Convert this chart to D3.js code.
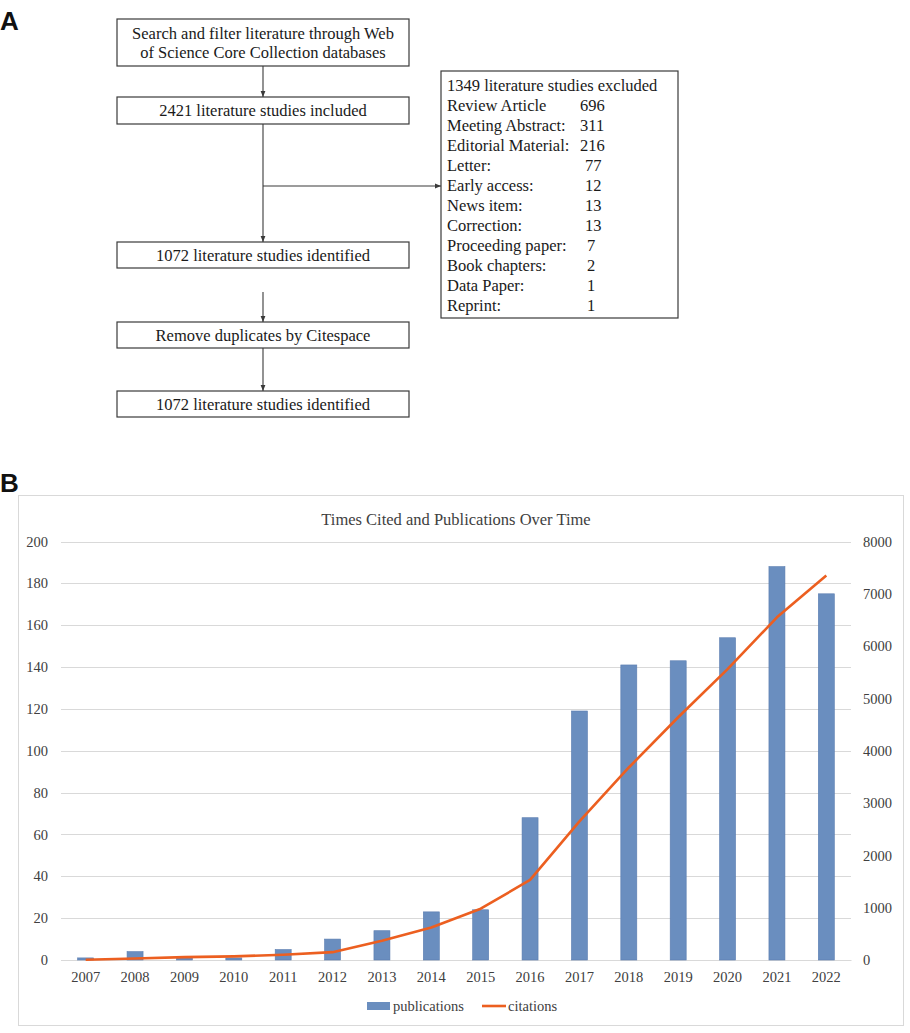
<!DOCTYPE html>
<html><head><meta charset="utf-8">
<script src="https://cdn.jsdelivr.net/npm/d3@7"></script>
<style>body{margin:0;background:#fff;}svg{display:block;}</style>
</head><body>
<svg id="c" width="910" height="1033"></svg>
<script>
// ---- Data ----
const flowSteps = [
  ["Search and filter literature through Web", "of Science Core Collection databases"],
  ["2421 literature studies included"],
  ["1072 literature studies identified"],
  ["Remove duplicates by Citespace"],
  ["1072 literature studies identified"]
];
const excludedTitle = "1349 literature studies excluded";
const excludedLabels = ["Review Article", "Meeting Abstract:", "Editorial Material:", "Letter:", "Early access:", "News item:", "Correction:", "Proceeding paper:", "Book chapters:", "Data Paper:", "Reprint:"];
const excludedCounts = [696, 311, 216, 77, 12, 13, 13, 7, 2, 1, 1];

const years = ["2007","2008","2009","2010","2011","2012","2013","2014","2015","2016","2017","2018","2019","2020","2021","2022"];
const publications = [1, 4, 1, 1, 5, 10, 14, 23, 24, 68, 119, 141, 143, 154, 188, 175];
const citations = [5, 30, 55, 70, 100, 150, 370, 620, 980, 1530, 2650, 3680, 4640, 5560, 6550, 7350];
const leftTicks = [0, 20, 40, 60, 80, 100, 120, 140, 160, 180, 200];
const rightTicks = [0, 1000, 2000, 3000, 4000, 5000, 6000, 7000, 8000];
const chartTitle = "Times Cited and Publications Over Time";
const seriesNames = ["publications", "citations"];

// ---- Drawing ----
const svg = d3.select("#c");
const serif = "'Liberation Serif', 'Times New Roman', serif";
const sans = "'Liberation Sans', Arial, sans-serif";
const stroke = "#3a3a3a";
const flowFont = 16.5;

svg.append("defs").append("marker")
  .attr("id", "ah").attr("viewBox", "0 0 10 10").attr("refX", 10).attr("refY", 5)
  .attr("markerWidth", 6).attr("markerHeight", 6).attr("orient", "auto-start-reverse")
  .attr("markerUnits", "userSpaceOnUse")
  .append("path").attr("d", "M0,1 L10,5 L0,9 z").attr("fill", stroke);

// Panel labels
svg.append("text").attr("x", 0).attr("y", 30).text("A")
  .attr("font-family", sans).attr("font-weight", "bold").attr("font-size", 26).attr("fill", "#111");
svg.append("text").attr("x", 0).attr("y", 492).text("B")
  .attr("font-family", sans).attr("font-weight", "bold").attr("font-size", 26).attr("fill", "#111");

// Flowchart
const boxX = 117, boxW = 292, cx = boxX + boxW / 2;
const boxY = [19, 97, 242, 322, 391];
const boxH = [47, 27, 26, 26, 26];
flowSteps.forEach((lines, i) => {
  svg.append("rect").attr("x", boxX).attr("y", boxY[i]).attr("width", boxW).attr("height", boxH[i])
    .attr("fill", "#fff").attr("stroke", stroke).attr("stroke-width", 1.2);
  const n = lines.length;
  lines.forEach((t, j) => {
    svg.append("text").attr("x", cx)
      .attr("y", boxY[i] + boxH[i] / 2 + (j - (n - 1) / 2) * 19)
      .attr("dy", "0.35em").attr("text-anchor", "middle")
      .attr("font-family", serif).attr("font-size", flowFont).attr("fill", "#1a1a1a").text(t);
  });
});
function arrow(x1, y1, x2, y2) {
  svg.append("line").attr("x1", x1).attr("y1", y1).attr("x2", x2).attr("y2", y2)
    .attr("stroke", stroke).attr("stroke-width", 1.1).attr("marker-end", "url(#ah)");
}
arrow(cx, boxY[0] + boxH[0], cx, boxY[1]);
arrow(cx, boxY[1] + boxH[1], cx, boxY[2]);
arrow(cx, 292, cx, boxY[3]);
arrow(cx, boxY[3] + boxH[3], cx, boxY[4]);

// Excluded box
const exX = 441, exY = 71, exW = 237, exH = 247;
svg.append("rect").attr("x", exX).attr("y", exY).attr("width", exW).attr("height", exH)
  .attr("fill", "#fff").attr("stroke", stroke).attr("stroke-width", 1.2);
arrow(cx, 186, exX, 186);
const lineGap = 20, firstY = 85;
svg.append("text").attr("x", 447).attr("y", firstY).attr("dy", "0.35em")
  .attr("font-family", serif).attr("font-size", flowFont).attr("fill", "#1a1a1a").text(excludedTitle);
excludedLabels.forEach((lab, i) => {
  const y = firstY + (i + 1) * lineGap;
  svg.append("text").attr("x", 447).attr("y", y).attr("dy", "0.35em")
    .attr("font-family", serif).attr("font-size", flowFont).attr("fill", "#1a1a1a").text(lab);
  const v = excludedCounts[i];
  svg.append("text").attr("x", v >= 100 ? 580 : (v >= 10 ? 585 : 587)).attr("y", y).attr("dy", "0.35em")
    .attr("font-family", serif).attr("font-size", flowFont).attr("fill", "#1a1a1a").text(v);
});

// ---- Chart B ----
svg.append("rect").attr("x", 18.5).attr("y", 495.5).attr("width", 885).attr("height", 530)
  .attr("fill", "#fff").attr("stroke", "#d9d9d9").attr("stroke-width", 1);

const plotL = 61, plotR = 851, y0 = 960, yTop = 541.5;
const x = d3.scaleBand().domain(years).range([plotL, plotR]).paddingInner(0.676).paddingOuter(0.338);
const yL = d3.scaleLinear().domain([0, 200]).range([y0, yTop]);
const yR = d3.scaleLinear().domain([0, 8000]).range([y0, yTop]);

svg.append("text").attr("x", 456).attr("y", 519).attr("dy", "0.35em").attr("text-anchor", "middle")
  .attr("font-family", serif).attr("font-size", 16.5).attr("fill", "#404040").text(chartTitle);

// gridlines
svg.append("g").selectAll("line").data(leftTicks).join("line")
  .attr("x1", plotL).attr("x2", plotR)
  .attr("y1", d => Math.round(yL(d)) + 0.5).attr("y2", d => Math.round(yL(d)) + 0.5)
  .attr("stroke", "#d9d9d9").attr("stroke-width", 1);

// left axis
const axL = svg.append("g").attr("transform", `translate(${plotL - 13},0)`)
  .call(d3.axisLeft(yL).tickValues(leftTicks).tickSize(0).tickPadding(0));
axL.select(".domain").remove();
axL.selectAll("text").attr("font-family", serif).attr("font-size", 14.5).attr("fill", "#404040");

// right axis
const axR = svg.append("g").attr("transform", `translate(${plotR + 12},0)`)
  .call(d3.axisRight(yR).tickValues(rightTicks).tickSize(0).tickPadding(0).tickFormat(d3.format("d")));
axR.select(".domain").remove();
axR.selectAll("text").attr("font-family", serif).attr("font-size", 14.5).attr("fill", "#404040");

// x axis
const axB = svg.append("g").attr("transform", `translate(0,${y0})`)
  .call(d3.axisBottom(x).tickSize(0).tickPadding(12));
axB.select(".domain").attr("stroke", "#d9d9d9");
axB.selectAll("text").attr("font-family", serif).attr("font-size", 14.5).attr("fill", "#404040");

// bars
const barColor = "#6a8ebf";
svg.append("g").selectAll("rect").data(publications).join("rect")
  .attr("x", (d, i) => x(years[i])).attr("width", x.bandwidth())
  .attr("y", d => yL(d)).attr("height", d => y0 - yL(d))
  .attr("fill", barColor).attr("stroke", "#5a7db0").attr("stroke-width", 0.6);

// line
const lineColor = "#ec5f20";
const line = d3.line().x((d, i) => x(years[i]) + x.bandwidth() / 2).y(d => yR(d));
svg.append("path").datum(citations).attr("d", line)
  .attr("fill", "none").attr("stroke", lineColor).attr("stroke-width", 2.6).attr("stroke-linejoin", "round");

// legend
const lg = svg.append("g");
lg.append("rect").attr("x", 367).attr("y", 1002).attr("width", 23).attr("height", 8).attr("fill", barColor);
lg.append("text").attr("x", 393).attr("y", 1006).attr("dy", "0.35em")
  .attr("font-family", serif).attr("font-size", 14.5).attr("fill", "#404040").text(seriesNames[0]);
lg.append("line").attr("x1", 482).attr("x2", 506).attr("y1", 1006).attr("y2", 1006)
  .attr("stroke", lineColor).attr("stroke-width", 2.6);
lg.append("text").attr("x", 508).attr("y", 1006).attr("dy", "0.35em")
  .attr("font-family", serif).attr("font-size", 14.5).attr("fill", "#404040").text(seriesNames[1]);
</script>
</body></html>
